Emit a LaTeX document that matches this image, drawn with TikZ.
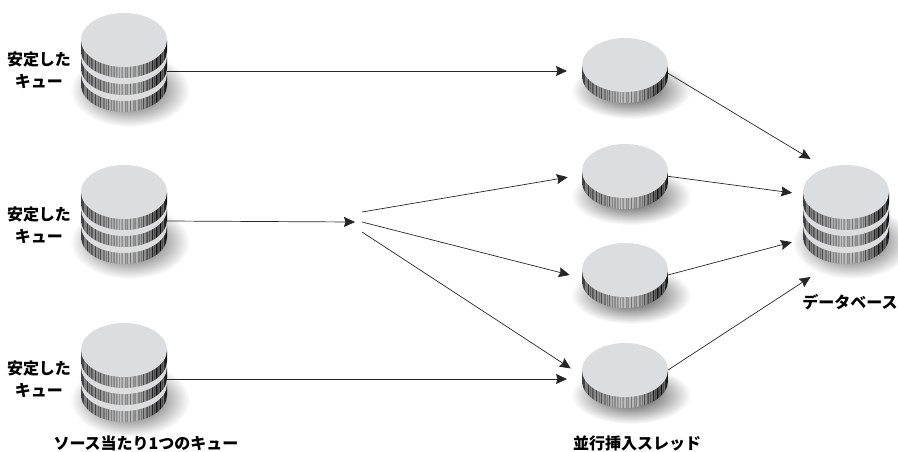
\documentclass[tikz,border=0pt]{standalone}
\usepackage{fontspec}
\setmainfont{Noto Sans CJK JP}
\usetikzlibrary{arrows.meta,shapes.geometric}

\definecolor{disktop}{HTML}{DCDDDE}
\pgfdeclarehorizontalshading{rim}{100bp}{color(0bp)=(black!75);color(25bp)=(black!75);
  color(35bp)=(black!62);color(47bp)=(black!35);color(57bp)=(black!42);color(66bp)=(black!80);
  color(70bp)=(black);color(73bp)=(black!80);color(75bp)=(black);color(100bp)=(black)}

% one rim with its stripes, then the top face
\newcommand{\diskrim}[2]{
  \begin{scope}
    \clip (#1-43,#2) -- (#1-43,#2+11) arc[start angle=180,end angle=0,x radius=43,y radius=27]
          -- (#1+43,#2) -- cycle;
    \shade[shading=rim] (#1-43,#2-1) rectangle (#1+43,#2+40);
    \foreach \s in {-40,-38.7,...,40}
      \draw[white,opacity=.3,line width=.4pt] (#1+\s,#2) -- ++(0,40);
    \foreach \s in {-37,-34.3,...,41}
      \draw[black,opacity=.25,line width=.5pt] (#1+\s,#2) -- ++(0,40);
  \end{scope}}
\newcommand{\diskface}[2]{\fill[disktop] (#1,#2) ellipse[x radius=43,y radius=27];}
\newcommand{\diskshadow}[3]{\shade[inner color=black!80,outer color=white] (#1+6,#2) ellipse[x radius=60,y radius=#3];}
\newcommand{\diskstack}[2]{
  \diskshadow{#1}{#2+50}{37}
  \diskrim{#1}{#2+34}\diskface{#1}{#2+34}
  \diskrim{#1}{#2+17}\diskface{#1}{#2+17}
  \diskrim{#1}{#2}\diskface{#1}{#2}}

\begin{document}
\begin{tikzpicture}[x=1pt,y=-1pt,>={Stealth[length=11pt,width=10pt,inset=1.5pt]},
                    hidden node/.style={ellipse,inner sep=0pt,outer sep=0pt,minimum width=86pt,minimum height=54pt},
                    thread node/.style={hidden node,fill=disktop},
                    conn/.style={->,black!85,line width=.7pt,shorten >=15pt},
                    jp label/.style={font=\bfseries\fontsize{16}{22}\selectfont,align=center,inner sep=0pt}]
  \useasboundingbox (0,0) rectangle (898,451);

  \diskstack{124}{40}
  \diskstack{124}{192}
  \diskstack{124}{350}
  \diskstack{846}{192}
  \foreach \y in {65,171,270,370}{
    \diskshadow{625}{\y+25}{29}
    \diskrim{625}{\y}
  }

  \node[hidden node] (queue1) at (124,71) {};
  \node[hidden node] (queue2) at (124,221) {};
  \node[hidden node] (queue3) at (124,379) {};
  \node[thread node] (thread1) at (625,65) {};
  \node[thread node] (thread2) at (625,171) {};
  \node[thread node] (thread3) at (625,270) {};
  \node[thread node] (thread4) at (625,370) {};
  \node[ellipse,inner sep=0pt,minimum width=114pt,minimum height=150pt] (db) at (846,218) {};
  \node[inner sep=0pt,outer sep=0pt,minimum width=14pt,minimum height=20pt] (split) at (355,222) {};

  \node[jp label] (label1) at (39,70) {安定した\\キュー};
  \node[jp label] (label2) at (39,225) {安定した\\キュー};
  \node[jp label] (label3) at (39,379) {安定した\\キュー};
  \node[jp label] (label4) at (146,443) {ソース当たり1つのキュー};
  \node[jp label] (label5) at (637,443) {並行挿入スレッド};
  \node[jp label] (label6) at (850,302) {データベース};

  \path[conn]
    (queue1.east) edge (queue1.east -| thread1.west)
    (queue3.east) edge (queue3.east -| thread4.west)
    (split.north east) edge (thread2.185.5)
    (split.east) edge (thread3.192)
    (split.south east) edge (thread4.189.5);
  \path[conn,shorten >=0pt]
    (queue2.east) edge (split.center)
    (thread1.-10) edge (db.121.8)
    (thread2.-7) edge (db.155.2)
    (thread3.-7) edge (db.204.8)
    (thread4.0) edge (db.239);
\end{tikzpicture}
\end{document}
